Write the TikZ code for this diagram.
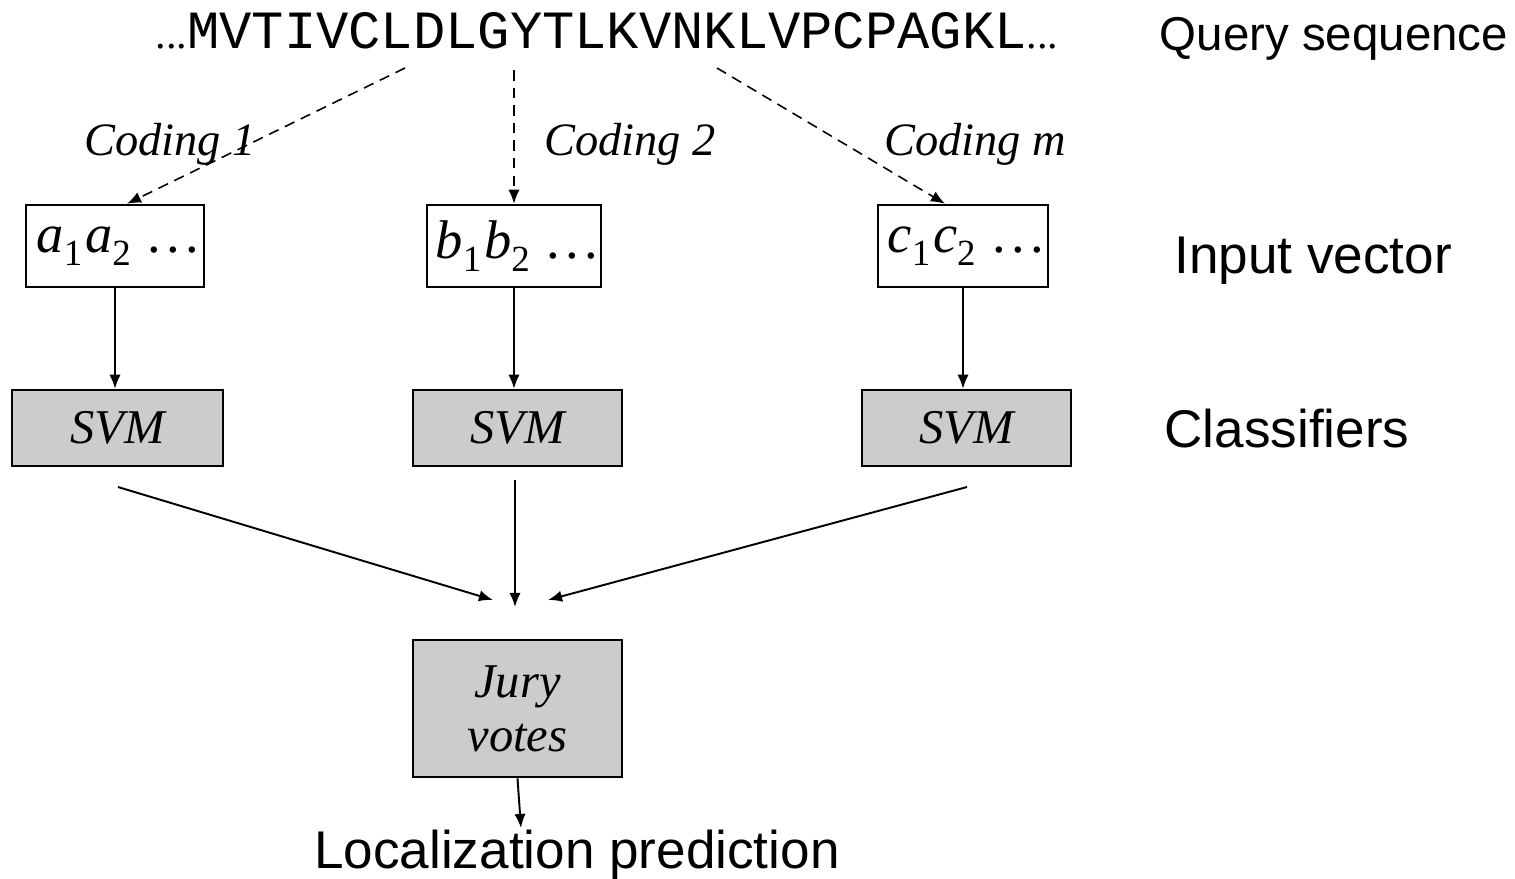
\documentclass[tikz,border=0pt]{standalone}
\usepackage{fontspec}
\setmainfont{Liberation Serif}
\setsansfont{Liberation Sans}
\setmonofont{Liberation Mono}
\usetikzlibrary{arrows.meta,calc}
\newcommand{\subn}[1]{\raisebox{-0.5ex}{\fontsize{10.5}{11}\selectfont #1}}
\newcommand{\mydots}{\hspace{0.3em}.\hspace{0.1em}.\hspace{0.1em}.}
\begin{document}
\begin{tikzpicture}[x=0.01cm,y=-0.01cm,
  inbox/.style={draw,line width=0.7pt,minimum height=0.82cm,inner sep=0pt,font=\fontsize{15.5}{18}\selectfont},
  svmbox/.style={draw,line width=0.7pt,fill=black!20,minimum width=2.09cm,inner sep=0pt,font=\fontsize{13.8}{15.4}\selectfont\itshape},
  lab/.style={font=\sffamily\fontsize{15.1}{18}\selectfont,inner sep=0pt,anchor=base},
  cod/.style={font=\fontsize{13.2}{15}\selectfont\itshape,inner sep=0pt,anchor=base},
  tip/.style={-{Latex[length=4pt,width=3.2pt]}},
  sarrow/.style={tip,line width=0.55pt},
  darrow/.style={tip,line width=0.45pt,dash pattern=on 3pt off 2pt}]
\useasboundingbox (0,0) rectangle (1515,878);
% texts
\node[anchor=base,inner sep=0pt] (seq) at (607,48) {\fontsize{12}{14}\selectfont...\fontsize{15.3}{18}\selectfont\ttfamily MVTIVCLDLGYTLKVNKLVPCPAGKL\rmfamily\fontsize{12}{14}\selectfont...};
\node[lab,font=\sffamily\fontsize{13.5}{16}\selectfont] (query) at (1334,50) {Query sequence};
\node[cod] (c1) at (170,155) {Coding 1};
\node[cod] (c2) at (630,155) {Coding 2};
\node[cod] (cm) at (975,155) {Coding m};
% input boxes
\node[inbox,minimum width=1.78cm] (in1) at (115,246) {\hspace{0.1em}\textit{a}\subn{1}\hspace{0.05em}\textit{a}\subn{2}\mydots};
\node[inbox,minimum width=1.74cm] (in2) at (514,246) {\hspace{0.1em}\textit{b}\subn{1}\hspace{0.05em}\textit{b}\subn{2}\mydots};
\node[inbox,minimum width=1.70cm] (in3) at (963,246) {\hspace{0.1em}\textit{c}\subn{1}\hspace{0.05em}\textit{c}\subn{2}\mydots};
\node[lab] (inv) at (1313,273) {Input vector};
% SVMs
\node[svmbox,minimum width=2.11cm,minimum height=0.76cm] (s1) at (117.5,428) {SVM};
\node[svmbox,minimum height=0.76cm] (s2) at (517.5,428) {SVM};
\node[svmbox,minimum height=0.76cm] (s3) at (966.5,428) {SVM};
\node[lab] (cls) at (1287,447) {Classifiers};
% jury
\node[svmbox,minimum height=1.37cm,align=center] (jury) at (517.5,708.5) {Jury\\votes};
\node[lab] (loc) at (577,868) {Localization prediction};
% coordinates
\coordinate (d1) at (405,68);
\coordinate (d2) at (514,70);
\coordinate (d3) at (717,68);
\coordinate (a1) at (118,487);
\coordinate (a2) at (515,480);
\coordinate (a3) at (967,487);
\coordinate (j1) at (493,600);
\coordinate (j2) at (515,607);
\coordinate (j3) at (548,600);
\coordinate (lt) at (521,828);
% connectors
\draw[darrow] (d1) -- ($(in1.north)+(12,0)$);
\draw[darrow] (d2) -- (in2.north);
\draw[darrow] (d3) -- ($(in3.north)+(-18,0)$);
\draw[sarrow] (in1.south) -- (in1.south |- s1.north);
\draw[sarrow] (in2.south) -- (in2.south |- s2.north);
\draw[sarrow] (in3.south) -- (in3.south |- s3.north);
\draw[sarrow] (a1) -- (j1);
\draw[sarrow] (a2) -- (j2);
\draw[sarrow] (a3) -- (j3);
\draw[sarrow] (jury.south) -- (lt);
\end{tikzpicture}
\end{document}
